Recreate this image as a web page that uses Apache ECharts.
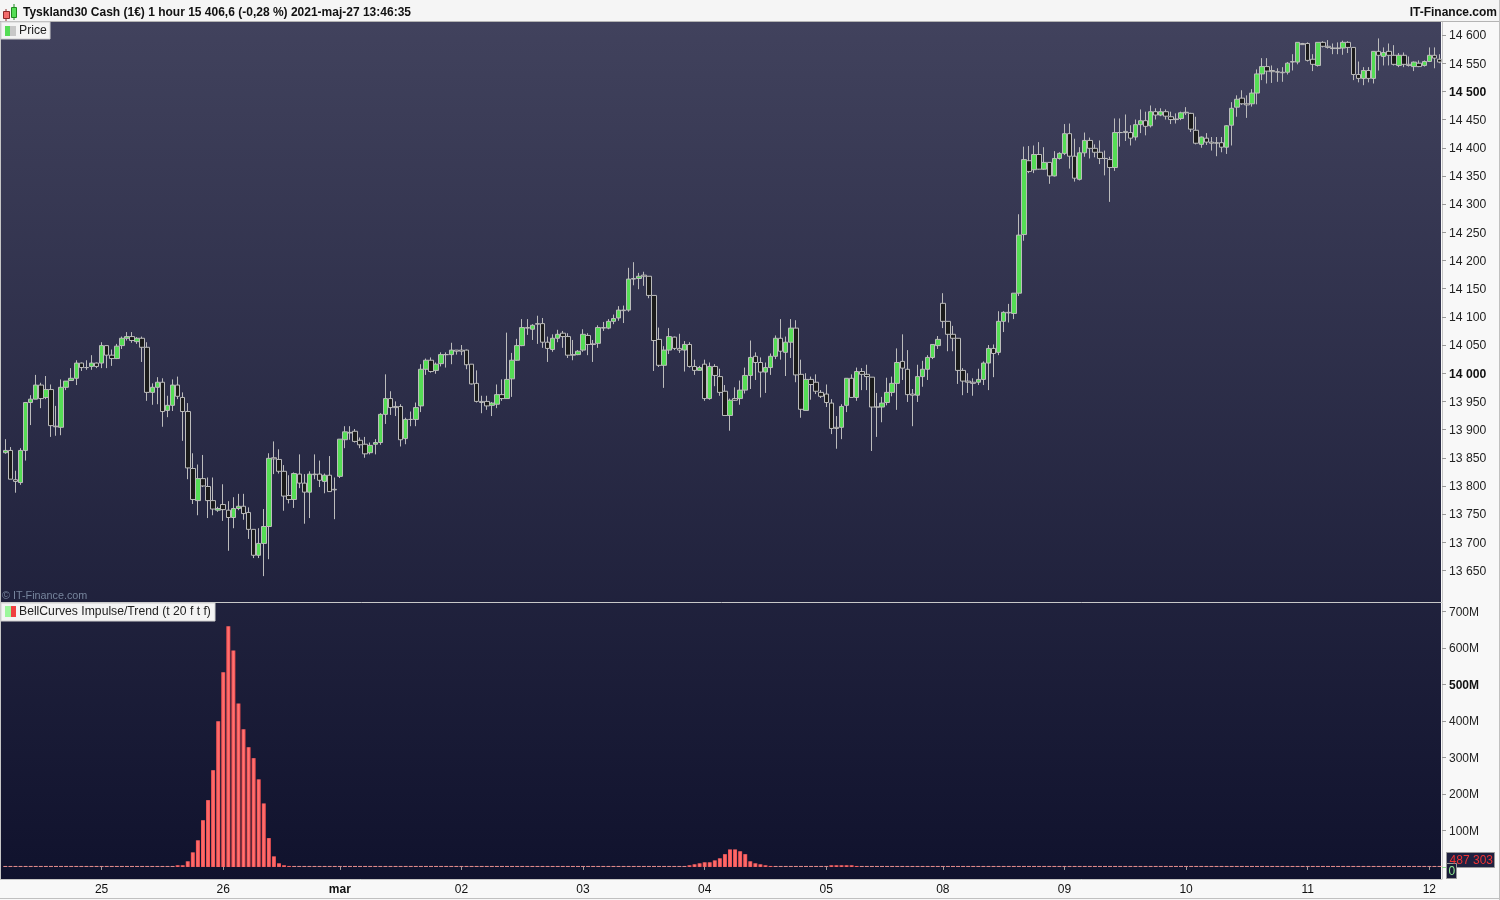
<!DOCTYPE html>
<html><head><meta charset="utf-8">
<style>html,body{margin:0;padding:0;background:#f6f6f6}#c{width:1500px;height:900px}</style>
<script src="https://cdn.jsdelivr.net/npm/echarts@6/dist/echarts.min.js"></script>
</head><body><div id="c"></div>
<script>
const open=[13859,13863,13811,13806,13863,13948,13954,13979,13957,13971,
13906,13904,13975,13987,13991,14018,14010,14012,14018,14018,
14049,14032,14026,14049,14062,14065,14056,14062,14046,13966,
13975,13984,13934,13943,13979,13957,13932,13831,13774,13813,
13799,13774,13757,13767,13757,13744,13760,13764,13753,13723,
13677,13698,13728,13850,13847,13826,13783,13776,13821,13805,
13789,13821,13821,13808,13819,13794,13817,13882,13895,13897,
13881,13874,13859,13874,13877,13927,13955,13941,13941,13884,
13918,13918,13942,14007,14023,14005,14017,14033,14033,14041,
14041,14041,14016,13982,13950,13950,13943,13945,13962,13955,
13990,14023,14049,14081,14078,14088,14088,14055,14042,14062,
14071,14065,14033,14033,14041,14067,14052,14053,14081,14080,
14092,14098,14112,14112,14168,14168,14174,14172,14138,14060,
14014,14041,14064,14044,14041,14051,14012,14005,14016,13955,
14012,13994,13968,13925,13955,13955,13970,13996,14030,14019,
14002,14010,14030,14062,14037,14055,14080,13998,13934,13989,
13984,13966,13963,13947,13904,13904,13943,13991,13957,14003,
13998,13993,13940,13940,13948,13966,13982,14021,14007,13963,
13961,13994,14007,14028,14049,14124,14092,14069,14062,14005,
13986,13984,13984,13989,14018,14044,14037,14092,14108,14106,
14142,14246,14377,14361,14388,14362,14374,14350,14381,14390,
14425,14385,14344,14391,14413,14399,14392,14381,14379,14365,
14427,14429,14427,14419,14441,14448,14439,14464,14458,14464,
14455,14451,14452,14463,14461,14431,14406,14417,14410,14409,
14409,14401,14440,14472,14488,14478,14478,14497,14531,14544,
14537,14535,14534,14534,14553,14552,14585,14585,14557,14546,
14587,14580,14577,14577,14577,14587,14578,14530,14523,14537,
14523,14571,14562,14571,14564,14546,14564,14548,14544,14550,
14546,14553,14564,14557];
const close=[13863,13812,13808,13863,13948,13954,13979,13955,13971,13907,
13905,13975,13986,13991,14018,14010,14010,14018,14012,14049,
14032,14026,14048,14062,14065,14058,14062,14046,13966,13975,
13984,13932,13943,13979,13959,13932,13832,13776,13813,13800,
13774,13759,13760,13758,13744,13760,13764,13751,13723,13677,
13698,13728,13849,13848,13826,13782,13776,13822,13805,13789,
13821,13820,13810,13819,13790,13793,13883,13896,13894,13879,
13873,13857,13872,13877,13927,13955,13939,13939,13882,13918,
13918,13939,14007,14023,14003,14016,14033,14033,14041,14039,
14039,14015,13981,13950,13948,13942,13947,13962,13955,13989,
14023,14049,14081,14080,14085,14087,14055,14044,14062,14069,
14065,14032,14032,14039,14069,14051,14051,14081,14080,14092,
14097,14112,14111,14167,14167,14172,14172,14138,14058,14014,
14041,14065,14044,14041,14051,14012,14005,14010,13955,14012,
13996,13966,13925,13952,13952,13970,13996,14028,14019,14002,
14010,14030,14062,14039,14055,14080,13997,13936,13989,13980,
13968,13959,13948,13902,13902,13941,13991,13957,14003,13998,
13994,13940,13940,13947,13966,13982,14019,14009,13962,13961,
13994,14007,14028,14051,14060,14092,14069,14062,14005,13986,
13984,13982,13989,14018,14044,14035,14092,14108,14107,14142,
14245,14379,14358,14388,14362,14374,14350,14381,14390,14425,
14385,14346,14391,14413,14399,14392,14381,14381,14365,14427,
14427,14427,14417,14441,14448,14438,14464,14458,14464,14456,
14450,14450,14462,14462,14433,14408,14419,14410,14408,14408,
14401,14439,14470,14486,14478,14476,14497,14531,14544,14536,
14535,14534,14533,14550,14552,14587,14583,14555,14548,14587,
14580,14578,14576,14576,14587,14578,14530,14523,14537,14523,
14571,14564,14569,14564,14548,14564,14548,14546,14552,14544,
14553,14564,14559,14552];
const low=[13857,13812,13788,13802,13845,13908,13954,13938,13954,13887,
13889,13890,13970,13987,13979,14004,14006,14006,14009,14009,
14009,14013,14025,14043,14058,14054,14052,14020,13951,13944,
13945,13905,13922,13933,13954,13880,13812,13768,13748,13798,
13743,13748,13754,13738,13685,13725,13757,13740,13706,13672,
13672,13640,13670,13821,13822,13756,13769,13761,13796,13733,
13743,13812,13798,13787,13790,13741,13814,13867,13882,13877,
13867,13850,13856,13856,13873,13910,13926,13924,13870,13874,
13906,13906,13931,13997,14001,13999,14012,14010,14016,14033,
14032,14007,13980,13948,13929,13935,13924,13938,13951,13955,
13958,14022,14048,14068,14059,14052,14045,14020,14038,14055,
14045,14027,14023,14032,14038,14032,14020,14045,14075,14078,
14087,14093,14089,14109,14156,14149,14155,14133,14004,14011,
13974,14034,14041,14036,14003,14010,13997,14005,13951,13953,
13977,13960,13925,13898,13951,13944,13964,13972,13988,13957,
13965,13997,14025,14024,13995,14027,13984,13921,13934,13953,
13963,13956,13940,13892,13866,13883,13931,13957,13951,13970,
13970,13862,13887,13913,13943,13959,13935,13988,13949,13906,
13949,13976,13988,14025,14043,14080,14039,14039,13981,13961,
13965,13960,13979,13979,13970,13993,14032,14073,14090,14096,
14137,14235,14355,14355,14361,14361,14336,14349,14379,14387,
14363,14340,14342,14384,14381,14383,14371,14351,14304,14359,
14402,14412,14404,14413,14426,14422,14436,14450,14456,14450,
14442,14443,14449,14458,14428,14406,14400,14405,14395,14385,
14392,14389,14404,14455,14476,14453,14473,14477,14520,14514,
14515,14517,14517,14530,14537,14548,14583,14553,14536,14544,
14578,14576,14566,14566,14565,14568,14520,14516,14511,14516,
14514,14537,14546,14546,14546,14543,14543,14544,14536,14543,
14544,14552,14541,14550];
const high=[13883,13869,13827,13867,13949,13961,13997,13983,13995,13980,
13942,13989,13986,14009,14023,14019,14023,14032,14019,14055,
14049,14042,14052,14065,14073,14073,14064,14065,14055,13982,
13993,13991,13960,13989,13994,13966,13947,13858,13838,13855,
13815,13815,13763,13803,13773,13780,13786,13786,13762,13723,
13725,13759,13858,13879,13865,13837,13819,13824,13856,13821,
13826,13856,13845,13822,13853,13815,13883,13906,13906,13901,
13886,13887,13877,13883,13929,13998,13968,13950,13945,13921,
13932,13948,14016,14026,14028,14019,14037,14037,14054,14041,
14050,14042,14016,14005,13960,13960,13949,13980,13989,14072,
14036,14061,14096,14096,14087,14102,14098,14065,14069,14077,
14075,14071,14059,14041,14078,14071,14059,14085,14091,14096,
14104,14119,14120,14187,14197,14178,14180,14172,14138,14081,
14048,14080,14065,14070,14057,14055,14024,14013,14024,14019,
14016,14008,13979,13955,13975,13987,14010,14058,14037,14028,
14019,14035,14067,14096,14065,14096,14094,14024,14000,13994,
13998,13970,13980,13954,13924,13945,13991,13998,14010,14009,
14015,13993,13965,13958,13992,13994,14044,14069,14041,13972,
14015,14022,14032,14051,14066,14142,14092,14084,14062,14009,
14000,13991,14008,14021,14050,14051,14110,14110,14123,14142,
14282,14402,14403,14404,14410,14401,14374,14394,14392,14442,
14443,14416,14401,14427,14418,14406,14413,14395,14384,14452,
14452,14459,14440,14450,14468,14464,14475,14470,14470,14468,
14464,14461,14464,14472,14462,14455,14420,14426,14419,14419,
14419,14440,14481,14493,14502,14493,14504,14539,14559,14559,
14546,14541,14543,14552,14566,14587,14586,14587,14566,14587,
14589,14591,14585,14587,14590,14589,14578,14553,14543,14543,
14571,14594,14578,14585,14582,14568,14569,14562,14553,14555,
14555,14578,14578,14566];
const bellCurve=[1,1,1,1,1,1,1,1,1,1,
1,1,1,1,1,1,1,1,1,1,
1,1,1,1,1,1,1,1,1,1,
1,1,1,1,4.6,4.6,15.5,40,73,128,
183,265,399,533,659,593,448,377,328,298,
240,174,79,29,10,4.6,1.5,1,1,1,
1,1,1,1,1,1,1,1,1,1,
1,1,1,1,1,1,1,1,1,1,
1,1,1,1,1,1,1,1,1,1,
1,1,1,1,1,1,1,1,1,1,
1,1,1,1,1,1,1,1,1,1,
1,1,1,1,1,1,1,1,1,1,
1,1,1,1,1,1,1,1,1,1,
1,1,1,1,1,4.6,7.3,10,12.8,12.8,
18,23.7,35,48,48,43,35,15.5,10,7.3,
4.6,1.5,1,1,1,1,1,1,1,1,
1,1,1,4.6,4.6,4.6,4.6,4.6,1.5,1,
1,1,1,1,1,1,1,1,1,1,
1,1,1,1,1,1,1,1,1,1,
1,1,1,1,1,1,1,1,1,1,
1,1,1,1,1,1,1,1,1,1,
1,1,1,1,1,1,1,1,1,1,
1,1,1,1,1,1,1,1,1,1,
1,1,1,1,1,1,1,1,1,1,
1,1,1,1,1,1,1,1,1,1,
1,1,1,1,1,1,1,1,1,1,
1,1,1,1,1,1,1,1,1,1,
1,1,1,1,1,1,1,1,1,1,
1,1,1,1];
const dayIndex=[19,43,66,90,114,138,162,185,209,233,257,281];
const dayLabels=['25','26','mar','02','03','04','05','08','09','10','11','12'];
const priceTicks=[14600,14550,14500,14450,14400,14350,14300,14250,14200,14150,14100,14050,14000,13950,13900,13850,13800,13750,13700,13650];
const boldPrice=[14500,14000];
const bellTicks=[100,200,300,400,500,600,700];
const boldBell=[500];
const categories=open.map((_,i)=>{const k=dayIndex.indexOf(i);return k>=0?dayLabels[k]:'h'+i;});
const candleData=open.map((o,i)=>[o,close[i],low[i],high[i]]);
const priceFmt=v=>{const s=String(v);return s.slice(0,2)+' '+s.slice(2);};
const AX='#9a9a9a', LINE='#c6c6c6', FONT='"Liberation Sans",Arial,sans-serif';
const chart=echarts.init(document.getElementById('c'),null,{renderer:'canvas'});
const txt=(x,y,text,o={})=>({type:'text',z:200,silent:true,style:Object.assign({x,y,text,fill:'#111',font:'12px '+FONT,textVerticalAlign:'middle'},o)});
const rect=(x,y,w,h,fill,stroke,z=190)=>({type:'rect',z,silent:true,shape:{x,y,width:w,height:h},style:{fill,stroke:stroke||null,lineWidth:stroke?1:0}});
const barGrad=new echarts.graphic.LinearGradient(0,0,1,0,[{offset:0,color:'#f04a4a'},{offset:0.5,color:'#ff7474'},{offset:1,color:'#f04a4a'}]);
const graphic=[
 {type:'rect',z:-10,silent:true,shape:{x:1,y:22,width:1440,height:857},style:{fill:new echarts.graphic.LinearGradient(0,0,0,1,[{offset:0,color:'#41425d'},{offset:1,color:'#10122d'}])}},
 rect(0,0,1500,21,'#f5f5f5',null,-5),
 {type:'line',z:180,silent:true,shape:{x1:0,y1:21.5,x2:1500,y2:21.5},style:{stroke:'#b4b4b4',lineWidth:1}},
 {type:'line',z:180,silent:true,shape:{x1:0.5,y1:22,x2:0.5,y2:880},style:{stroke:LINE,lineWidth:1}},
 {type:'line',z:180,silent:true,shape:{x1:1,y1:602.5,x2:1442,y2:602.5},style:{stroke:'#c8c8c8',lineWidth:1}},
 {type:'line',z:180,silent:true,shape:{x1:0,y1:879.5,x2:1442,y2:879.5},style:{stroke:LINE,lineWidth:1}},
 {type:'line',z:180,silent:true,shape:{x1:1499.5,y1:0,x2:1499.5,y2:900},style:{stroke:'#c0c0c0',lineWidth:1}},
 {type:'line',z:180,silent:true,shape:{x1:0,y1:898.5,x2:1500,y2:898.5},style:{stroke:'#c0c0c0',lineWidth:1}},
 {type:'line',z:191,silent:true,shape:{x1:6,y1:9,x2:6,y2:21},style:{stroke:'#8a2a2a',lineWidth:1}},
 rect(3.5,11.5,6,7,'#f26c6c','#8a2a2a',192),
 {type:'line',z:191,silent:true,shape:{x1:14,y1:4,x2:14,y2:20},style:{stroke:'#1f8a1f',lineWidth:1}},
 rect(11.5,7.5,5,10,'#55dd55','#1f8a1f',192),
 txt(23,13,'Tyskland30 Cash (1€) 1 hour 15 406,6 (-0,28 %) 2021-maj-27 13:46:35',{font:'bold 12px '+FONT}),
 txt(1497,13,'IT-Finance.com',{font:'bold 12px '+FONT,textAlign:'right'}),
 rect(1,22,49,17,'#f4f4f4','#d0d0d0'),
 rect(5,26,5,10,'#55dd55'),rect(10,26,6,10,'#c8c8c8'),
 txt(19,31,'Price',{fill:'#222',font:'12.2px '+FONT}),
 rect(1,603,214,18,'#f4f4f4','#d0d0d0'),
 rect(5,606,6,11,'#9cf79c'),rect(11,606,5,11,'#f04040'),
 txt(19,612,'BellCurves Impulse/Trend (t 20 f t f)',{fill:'#222',font:'12.2px '+FONT}),
 txt(2,596,'© IT-Finance.com',{fill:'#76849c',font:'10.8px '+FONT}),
 {type:'line',z:185,silent:true,shape:{x1:1442,y1:867.5,x2:1447,y2:867.5},style:{stroke:'#8fe08f',lineWidth:1}},
 rect(1446.5,852.5,48,15,'#1f2140','#9a9a9a'),
 txt(1493,860.5,'487 303',{fill:'#ee3333',textAlign:'right'}),
 rect(1446.5,863.5,10,15,'#1a1c38','#9a9a9a',195),
 {type:'text',z:196,silent:true,style:{x:1448.5,y:871.5,text:'0',fill:'#90ee90',font:'12px '+FONT,textVerticalAlign:'middle'}}
];
const yCommon={type:'value',position:'right',scale:true,splitLine:{show:false},axisLine:{show:true,lineStyle:{color:LINE}}};
chart.setOption({
 animation:false,backgroundColor:'#f8f8f8',graphic,
 grid:[{left:2.8,width:1439.2,top:22,height:580},{left:2.8,width:1439.2,top:603,height:276}],
 xAxis:[
  {type:'category',gridIndex:0,data:categories,show:false},
  {type:'category',gridIndex:1,data:categories,
   axisLine:{show:false},
   axisTick:{show:true,length:3,interval:i=>dayIndex.includes(i),lineStyle:{color:AX},alignWithLabel:true},
   axisLabel:{interval:i=>dayIndex.includes(i),margin:5,color:'#111',fontFamily:FONT,fontSize:12,
    formatter:v=>v==='mar'?'{b|mar}':v,rich:{b:{fontWeight:'bold',fontFamily:FONT,fontSize:12,color:'#111'}}}}
 ],
 yAxis:[
  Object.assign({},yCommon,{gridIndex:0,min:13594.1,max:14623.1,
   axisTick:{show:true,length:4,lineStyle:{color:AX},customValues:priceTicks},
   axisLabel:{margin:7,customValues:priceTicks,color:'#222',fontFamily:FONT,fontSize:12.2,padding:[2,0,0,0],showMinLabel:true,showMaxLabel:true,
    formatter:v=>boldPrice.includes(v)?'{b|'+priceFmt(v)+'}':priceFmt(v),rich:{b:{fontWeight:'bold',fontFamily:FONT,fontSize:12.2,color:'#111'}}}}),
  Object.assign({},yCommon,{gridIndex:1,min:-33,max:723,
   axisTick:{show:true,length:4,lineStyle:{color:AX},customValues:bellTicks},
   axisLabel:{margin:7,customValues:bellTicks,color:'#222',fontFamily:FONT,fontSize:12,padding:[2,0,0,0],
    formatter:v=>boldBell.includes(v)?'{b|'+v+'M}':v+'M',rich:{b:{fontWeight:'bold',fontFamily:FONT,fontSize:12,color:'#111'}}}})
 ],
 series:[
  {name:'Price',type:'candlestick',xAxisIndex:0,yAxisIndex:0,data:candleData,barWidth:5,
   itemStyle:{color:'#55dd55',color0:'#1b1b1b',borderColor:'#bcbcbc',borderColor0:'#bcbcbc',borderWidth:1}},
  {name:'BellCurves',type:'bar',xAxisIndex:1,yAxisIndex:1,barWidth:4,barMinHeight:1,
   data:bellCurve.map(v=>v<=1?{value:v,itemStyle:{color:'#e98f8f'}}:v),
   itemStyle:{color:barGrad}}
 ]
});
</script></body></html>
